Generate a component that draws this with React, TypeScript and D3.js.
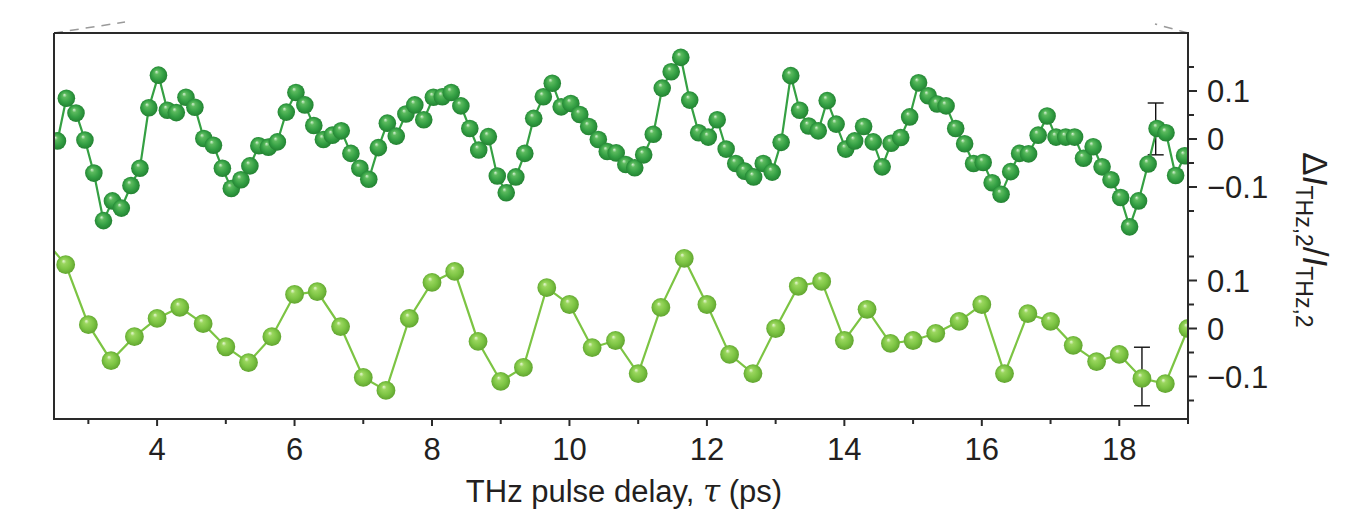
import React from "react";
import * as d3 from "d3";

// ---------- data ----------
const upperTau = [
  2.55, 2.68, 2.82, 2.95, 3.08, 3.22, 3.35, 3.48, 3.62, 3.75, 3.88, 4.02, 4.15, 4.28, 4.42, 4.55,
  4.68, 4.82, 4.95, 5.08, 5.22, 5.35, 5.48, 5.62, 5.75, 5.88, 6.02, 6.15, 6.28, 6.42, 6.55, 6.68,
  6.82, 6.95, 7.08, 7.22, 7.35, 7.48, 7.62, 7.75, 7.88, 8.02, 8.15, 8.28, 8.42, 8.55, 8.68, 8.82,
  8.95, 9.08, 9.22, 9.35, 9.48, 9.62, 9.75, 9.88, 10.02, 10.15, 10.28, 10.42, 10.55, 10.68, 10.82,
  10.95, 11.08, 11.22, 11.35, 11.48, 11.62, 11.75, 11.88, 12.02, 12.15, 12.28, 12.42, 12.55, 12.68,
  12.82, 12.95, 13.08, 13.22, 13.35, 13.48, 13.62, 13.75, 13.88, 14.02, 14.15, 14.28, 14.42, 14.55,
  14.68, 14.82, 14.95, 15.08, 15.22, 15.35, 15.48, 15.62, 15.75, 15.88, 16.02, 16.15, 16.28, 16.42,
  16.55, 16.68, 16.82, 16.95, 17.08, 17.22, 17.35, 17.48, 17.62, 17.75, 17.88, 18.02, 18.15, 18.28,
  18.42, 18.55, 18.68, 18.82, 18.95,
];
const upperValues = [
  -0.004, 0.085, 0.054, -0.002, -0.071, -0.17, -0.129, -0.144, -0.097, -0.061, 0.065, 0.133, 0.06,
  0.055, 0.087, 0.066, 0.001, -0.013, -0.061, -0.103, -0.085, -0.056, -0.014, -0.017, -0.006, 0.056,
  0.097, 0.071, 0.028, -0.001, 0.008, 0.017, -0.03, -0.061, -0.084, -0.018, 0.033, 0.006, 0.052,
  0.071, 0.04, 0.087, 0.088, 0.097, 0.069, 0.022, -0.023, 0.005, -0.077, -0.112, -0.079, -0.03,
  0.043, 0.088, 0.116, 0.067, 0.074, 0.051, 0.026, -0.001, -0.026, -0.029, -0.053, -0.06, -0.033,
  0.01, 0.106, 0.14, 0.17, 0.081, 0.013, 0.004, 0.04, -0.021, -0.051, -0.067, -0.079, -0.051,
  -0.069, -0.007, 0.132, 0.06, 0.027, 0.017, 0.08, 0.031, -0.021, -0.004, 0.026, -0.006, -0.058,
  -0.009, 0.003, 0.046, 0.117, 0.09, 0.073, 0.069, 0.022, -0.01, -0.051, -0.049, -0.091, -0.115,
  -0.068, -0.03, -0.031, 0.008, 0.048, 0.004, 0.004, 0.004, -0.04, -0.016, -0.058, -0.085, -0.122,
  -0.183, -0.129, -0.052, 0.022, 0.013, -0.076, -0.035,
];

const lowerTau = [
  2.33, 2.67, 3, 3.33, 3.67, 4, 4.33, 4.67, 5, 5.33, 5.67, 6, 6.33, 6.67, 7, 7.33, 7.67, 8, 8.33,
  8.67, 9, 9.33, 9.67, 10, 10.33, 10.67, 11, 11.33, 11.67, 12, 12.33, 12.67, 13, 13.33, 13.67, 14,
  14.33, 14.67, 15, 15.33, 15.67, 16, 16.33, 16.67, 17, 17.33, 17.67, 18, 18.33, 18.67, 19,
];
const lowerValues = [
  0.19, 0.133, 0.008, -0.067, -0.017, 0.021, 0.044, 0.01, -0.038, -0.071, -0.017, 0.071, 0.077,
  0.004, -0.102, -0.129, 0.021, 0.096, 0.119, -0.027, -0.11, -0.081, 0.085, 0.05, -0.04, -0.025,
  -0.094, 0.044, 0.146, 0.05, -0.054, -0.094, 0.0, 0.088, 0.098, -0.025, 0.04, -0.031, -0.025,
  -0.01, 0.015, 0.05, -0.094, 0.031, 0.015, -0.035, -0.069, -0.054, -0.104, -0.115, 0.0,
];

// error bars: [tau, centre, half-length]
const upperErrorBar = [18.53, 0.021, 0.054];
const lowerErrorBar = [18.33, -0.1, 0.061];

const xMajorTicks = [4, 6, 8, 10, 12, 14, 16, 18];
const xMinorTicks = [3, 5, 7, 9, 11, 13, 15, 17, 19];
const yAllTicks = [-0.15, -0.1, -0.05, 0, 0.05, 0.1, 0.15];
const yLabelTicks = [-0.1, 0, 0.1];
const yTickLabels = ["\u22120.1", "0", "0.1"];

const xTitle = "THz pulse delay, ";

// ---------- layout ----------
const W = 1349;
const H = 513;
const left = 54;
const right = 1188;
const top = 33;
const bottom = 419;

const FONT = "'Liberation Sans', Arial, Helvetica, sans-serif";
const TEXT = "#231f20";

export default function App() {
  const x = d3.scaleLinear().domain([2.5, 19]).range([left, right]);
  const yU = d3.scaleLinear().domain([-0.1, 0.1]).range([187, 91]);
  const yL = d3.scaleLinear().domain([-0.1, 0.1]).range([376.5, 280.5]);

  const upper = upperTau.map((t, i) => [t, upperValues[i]] as [number, number]);
  const lower = lowerTau.map((t, i) => [t, lowerValues[i]] as [number, number]);

  const lineU = d3
    .line<[number, number]>()
    .x((d) => x(d[0]))
    .y((d) => yU(d[1]));
  const lineL = d3
    .line<[number, number]>()
    .x((d) => x(d[0]))
    .y((d) => yL(d[1]));

  const errBar = (eb: number[], ys: d3.ScaleLinear<number, number>, key: string) => {
    const cx = x(eb[0]);
    const y1 = ys(eb[1] + eb[2]);
    const y2 = ys(eb[1] - eb[2]);
    const cap = 8;
    return (
      <g key={key} stroke="#111" strokeWidth={1.4} fill="none">
        <line x1={cx} x2={cx} y1={y1} y2={y2} />
        <line x1={cx - cap} x2={cx + cap} y1={y1} y2={y1} />
        <line x1={cx - cap} x2={cx + cap} y1={y2} y2={y2} />
      </g>
    );
  };

  return (
    <svg
      width={W}
      height={H}
      style={{ position: "absolute", left: 0, top: 0, background: "#fff" }}
      fontFamily={FONT}
    >
      <defs>
        <radialGradient id="ballU" cx="0.5" cy="0.5" r="0.55" fx="0.38" fy="0.3">
          <stop offset="0%" stopColor="#d9f2d6" />
          <stop offset="22%" stopColor="#5cba5e" />
          <stop offset="60%" stopColor="#34a044" />
          <stop offset="100%" stopColor="#1f7c2e" />
        </radialGradient>
        <radialGradient id="ballL" cx="0.5" cy="0.5" r="0.55" fx="0.38" fy="0.3">
          <stop offset="0%" stopColor="#eaf8d8" />
          <stop offset="22%" stopColor="#9ad65e" />
          <stop offset="60%" stopColor="#7cc443" />
          <stop offset="100%" stopColor="#5c9f2c" />
        </radialGradient>
        <clipPath id="plotClip">
          <rect x={left} y={top} width={right - left} height={bottom - top} />
        </clipPath>
      </defs>

      {/* zoom indicator dashed lines */}
      <line x1={left} y1={top} x2={125} y2={22} stroke="#9a9a9a" strokeWidth={1.5} strokeDasharray="9,7" />
      <line x1={right} y1={top} x2={1155} y2={24} stroke="#9a9a9a" strokeWidth={1.5} strokeDasharray="9,7" />

      {/* data */}
      <g clipPath="url(#plotClip)">
        {errBar(upperErrorBar, yU, "eu")}
        {errBar(lowerErrorBar, yL, "el")}
        <path d={lineU(upper) || ""} fill="none" stroke="#35a043" strokeWidth={2.2} />
        <path d={lineL(lower) || ""} fill="none" stroke="#7cc443" strokeWidth={2.2} />
        {upper.map((d, i) => (
          <circle key={"u" + i} cx={x(d[0])} cy={yU(d[1])} r={8.8} fill="url(#ballU)" />
        ))}
        {lower.map((d, i) => (
          <circle key={"l" + i} cx={x(d[0])} cy={yL(d[1])} r={9.4} fill="url(#ballL)" />
        ))}
      </g>

      {/* frame */}
      <g stroke="#2a2a2a" strokeWidth={2} fill="none">
        <line x1={left} x2={right} y1={top} y2={top} />
        <line x1={left} x2={left} y1={top} y2={bottom + 1} />
        <line x1={left - 1} x2={right + 1} y1={bottom} y2={bottom} />
        <line x1={right} x2={right} y1={top - 1} y2={bottom + 1} />
      </g>

      {/* x ticks */}
      <g stroke="#2a2a2a" strokeWidth={2}>
        {xMajorTicks.map((t) => (
          <line key={"xm" + t} x1={x(t)} x2={x(t)} y1={bottom} y2={bottom + 7} />
        ))}
        {xMinorTicks.map((t) => (
          <line key={"xn" + t} x1={x(t)} x2={x(t)} y1={bottom} y2={bottom + 5} />
        ))}
      </g>
      <g fontSize={31} fill={TEXT} textAnchor="middle">
        {xMajorTicks.map((t) => (
          <text key={"xl" + t} x={x(t)} y={460}>
            {t}
          </text>
        ))}
      </g>
      <text x={624} y={502} fontSize={31} fill={TEXT} textAnchor="middle">
        {xTitle}
        <tspan fontFamily="'DejaVu Serif', 'Liberation Serif', serif" fontStyle="italic">
          τ
        </tspan>
        {" (ps)"}
      </text>

      {/* right y ticks */}
      {[yU, yL].map((ys, k) => (
        <g key={"yt" + k}>
          <g stroke="#2a2a2a" strokeWidth={2}>
            {yAllTicks.map((v) => (
              <line
                key={v}
                x1={right}
                x2={right + (yLabelTicks.includes(v) ? 9 : 6)}
                y1={ys(v)}
                y2={ys(v)}
              />
            ))}
          </g>
          <g fontSize={31} fill={TEXT}>
            {yLabelTicks.map((v, i) => (
              <text key={v} x={1207} y={ys(v)} dy="0.36em">
                {yTickLabels[i]}
              </text>
            ))}
          </g>
        </g>
      ))}

      {/* y title */}
      <text transform="translate(1303,240) rotate(90)" textAnchor="middle" fontSize={35} fill={TEXT}>
        Δ<tspan fontStyle="italic">I</tspan>
        <tspan fontSize={23} dy={7}>
          THz,2
        </tspan>
        <tspan dy={-7}>/</tspan>
        <tspan fontStyle="italic">I</tspan>
        <tspan fontSize={23} dy={7}>
          THz,2
        </tspan>
      </text>
    </svg>
  );
}
